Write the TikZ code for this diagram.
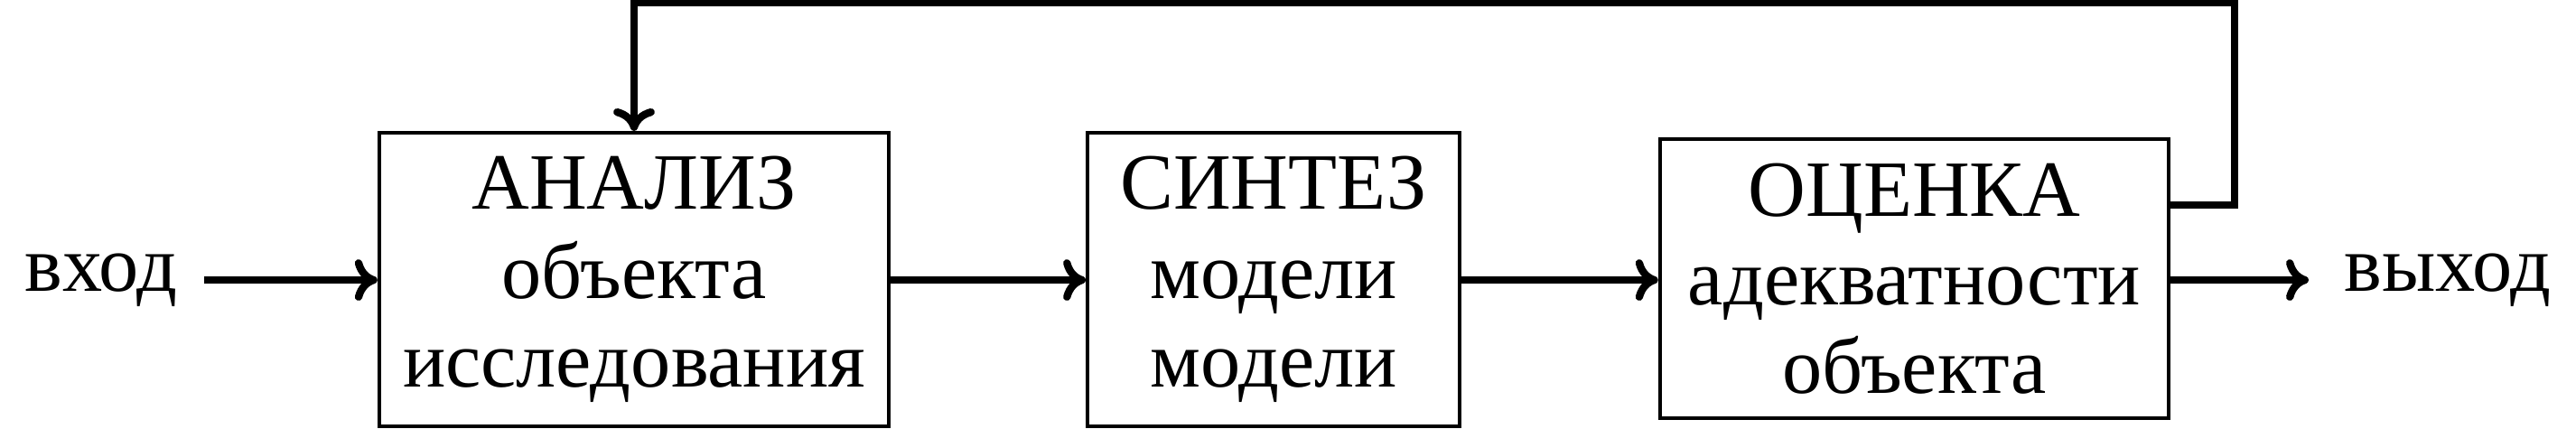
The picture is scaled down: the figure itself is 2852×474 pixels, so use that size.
\documentclass[tikz,border=0pt]{standalone}
\usepackage{fontspec}
\setmainfont{Liberation Serif}
\usetikzlibrary{arrows.meta}
\tikzset{
  blk/.style={draw, line width=0.5pt, inner sep=0pt, align=center, font=\fontsize{10.6}{11.8}\selectfont},
  lbl/.style={inner sep=0pt, font=\fontsize{10.6}{11.8}\selectfont},
  fl/.style={line width=1pt, -{Computer Modern Rightarrow[length=3pt,width=5.5pt]}},
  fln/.style={line width=1pt}
}
\begin{document}
\begin{tikzpicture}[x=0.12pt, y=-0.12pt]
\useasboundingbox (0,0) rectangle (2852,474);
\node[blk, minimum width=67.7pt, minimum height=39pt] (a) at (702,309.5) {АНАЛИЗ\\объекта\\исследования};
\node[blk, minimum width=49.4pt, minimum height=39pt] (s) at (1410,309.5) {СИНТЕЗ\\модели\\модели};
\node[blk, minimum width=67.6pt, minimum height=37.1pt] (o) at (2119.5,308.5) {ОЦЕНКА\\адекватности\\объекта};
\node[lbl] (in) at (112,310) {вход};
\node[lbl] (out) at (2710,310) {выход};
\draw[fl] (226,310) -- (a.west |- 0,310);
\draw[fl] (a.east |- 0,310) -- (s.west |- 0,310);
\draw[fl] (s.east |- 0,310) -- (o.west |- 0,310);
\draw[fl] (o.east |- 0,310) -- (2556,310);
\coordinate (fbr) at (2474,227);
\coordinate (fbt) at (2474,3);
\draw[fl] (fbr -| o.east) -- (fbr) -- (fbt) -| (a.north);
\end{tikzpicture}
\end{document}
